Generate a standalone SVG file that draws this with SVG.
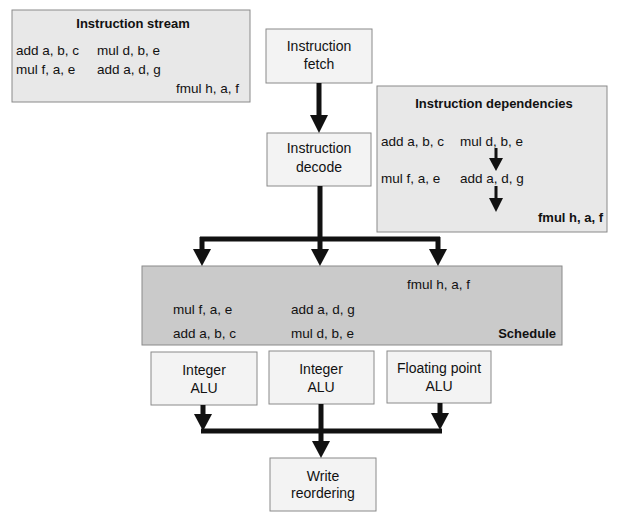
<svg xmlns="http://www.w3.org/2000/svg" width="620" height="526" viewBox="0 0 620 526">
<style>
text { font-family: "Liberation Sans", Arial, sans-serif; font-size: 13.5px; fill: #111; }
.t { font-weight: bold; font-size: 13px; }
.c { text-anchor: middle; font-size: 14px; }
.box { fill: #f3f3f3; stroke: #8a8a8a; stroke-width: 1; }
.panel { fill: #e8e8e8; stroke: #8a8a8a; stroke-width: 1; }
.sched { fill: #cacaca; stroke: #8a8a8a; stroke-width: 1; }
.wire { stroke: #111; stroke-width: 5; fill: none; }
.thin { stroke: #111; stroke-width: 3; fill: none; }
.head { fill: #111; }
</style>
<rect width="620" height="526" fill="#fff"/>
<g id="instruction-stream">
<rect class="panel" x="12" y="10" width="238" height="92"/>
<text class="t" x="133" y="28" text-anchor="middle">Instruction stream</text>
<text x="16" y="55">add a, b, c</text>
<text x="97" y="55">mul d, b, e</text>
<text x="16" y="74">mul f, a, e</text>
<text x="97" y="74">add a, d, g</text>
<text x="176" y="93">fmul h, a, f</text>
</g>
<g id="fetch">
<rect class="box" x="266" y="29" width="106" height="54"/>
<text class="c" x="319" y="51">Instruction</text>
<text class="c" x="319" y="69">fetch</text>
</g>
<g id="decode">
<rect class="box" x="267" y="133" width="104" height="53"/>
<text class="c" x="319" y="153">Instruction</text>
<text class="c" x="319" y="172">decode</text>
</g>
<g id="dependencies">
<rect class="panel" x="377" y="86" width="230" height="146" fill="#e4e4e4"/>
<text class="t" x="494" y="108" text-anchor="middle">Instruction dependencies</text>
<text x="381" y="146">add a, b, c</text>
<text x="460" y="146">mul d, b, e</text>
<text x="381" y="183">mul f, a, e</text>
<text x="460" y="183">add a, d, g</text>
<text class="t" x="538" y="222">fmul h, a, f</text>
<path class="thin" d="M496 148 V160 M496 186 V200"/>
<polygon class="head" points="489,158 503,158 496,171"/>
<polygon class="head" points="489,198 503,198 496,212"/>
</g>
<g id="schedule">
<rect class="sched" x="142" y="266" width="420" height="79"/>
<text x="407" y="289">fmul h, a, f</text>
<text x="173" y="314">mul f, a, e</text>
<text x="291" y="314">add a, d, g</text>
<text x="173" y="338">add a, b, c</text>
<text x="291" y="338">mul d, b, e</text>
<text class="t" x="556" y="338" text-anchor="end">Schedule</text>
</g>
<g id="alu1">
<rect class="box" x="151" y="352" width="106" height="53"/>
<text class="c" x="204" y="375">Integer</text>
<text class="c" x="204" y="393">ALU</text>
</g>
<g id="alu2">
<rect class="box" x="269" y="351" width="105" height="53"/>
<text class="c" x="321" y="374">Integer</text>
<text class="c" x="321" y="392">ALU</text>
</g>
<g id="alu3">
<rect class="box" x="387" y="351" width="104" height="52"/>
<text class="c" x="439" y="373">Floating point</text>
<text class="c" x="439" y="391">ALU</text>
</g>
<g id="write">
<rect class="box" x="270" y="458" width="106" height="53"/>
<text class="c" x="323" y="481">Write</text>
<text class="c" x="323" y="498">reordering</text>
</g>
<g id="connectors">
<path class="wire" d="M319 83 V117"/>
<polygon class="head" points="310,115 328,115 319,133"/>
<path class="wire" d="M320 186 V239 M200 239 H440 M202 237 V250 M320 239 V250 M438 237 V250"/>
<polygon class="head" points="193,249 211,249 202,266"/>
<polygon class="head" points="311,249 329,249 320,266"/>
<polygon class="head" points="429,249 447,249 438,266"/>
<path class="wire" d="M203 405 V416 M440 403 V414 M321 404 V443 M201 431 H442"/>
<polygon class="head" points="194,414 212,414 203,431"/>
<polygon class="head" points="431,413 449,413 440,430"/>
<polygon class="head" points="312,441 330,441 321,458"/>
</g>
</svg>
